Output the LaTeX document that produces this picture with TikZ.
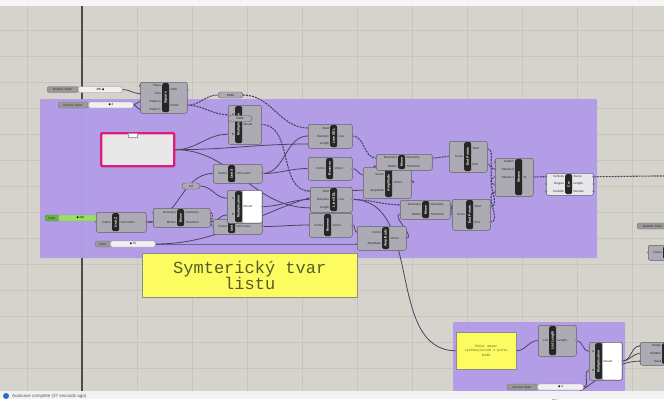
\documentclass[tikz,border=0pt]{standalone}
\usepackage{fontspec}
\setmainfont{Liberation Sans}
\newfontfamily\notefont{Liberation Mono}
\newfontfamily\dejavu{DejaVu Sans}
\usetikzlibrary{positioning,calc}

\definecolor{canvas}{RGB}{214,211,204}
\definecolor{gridc}{RGB}{200,197,190}
\definecolor{grpurple}{RGB}{178,156,232}
\definecolor{compgray}{RGB}{172,170,178}
\definecolor{complight}{RGB}{232,232,236}
\definecolor{compedge}{RGB}{96,94,104}
\definecolor{wirec}{RGB}{78,66,96}
\definecolor{notey}{RGB}{252,252,96}
\definecolor{notetext}{RGB}{86,92,40}
\definecolor{pinkedge}{RGB}{222,28,122}
\definecolor{slgreen}{RGB}{96,186,58}
\definecolor{slgreenlt}{RGB}{150,226,96}
\definecolor{statusblue}{RGB}{40,110,200}

\pgfdeclarelayer{bg}
\pgfdeclarelayer{wires}
\pgfsetlayers{bg,wires,main}

\tikzset{
  gridline/.style={draw=gridc, line width=0.5},
  splitter/.style={draw=black!70, line width=2.5},
  comp/.style={draw=compedge, fill=compgray, rounded corners=2, line width=0.5, inner sep=0},
  strip/.style={fill=black!85, rounded corners=1.5, minimum width=7, inner sep=0},
  striplbl/.style={text=white, rotate=90, font=\fontsize{3.4}{4}\selectfont\bfseries, inner sep=0},
  port/.style={font=\fontsize{3}{3}\selectfont, inner sep=0, text=black!85},
  portdot/.style={fill=compgray, draw=compedge, line width=0.3},
  capsule/.style={draw=compedge, fill=compgray, rounded corners=3, minimum height=6, inner sep=0,
    font=\fontsize{3}{3}\selectfont, line width=0.4},
  sliderlbl/.style={fill=black!40, draw=black!55, rounded corners=1.5, minimum height=6, inner xsep=1.5,
    inner ysep=0, font=\fontsize{3}{3}\selectfont, text=black!80, line width=0.3},
  sliderbar/.style={fill=black!6, draw=black!45, rounded corners=1.5, minimum height=6, inner sep=0,
    font=\fontsize{3}{3}\selectfont, line width=0.3},
  greenlbl/.style={fill=slgreen},
  greenbar/.style={fill=slgreenlt},
  note/.style={fill=notey, draw=black!45, line width=0.5, align=center, text=notetext, inner sep=0},
  pinkpanel/.style={draw=pinkedge, line width=2.4, fill=black!9, rounded corners=1, inner sep=0},
  pnltab/.style={fill=white, draw=black!40, line width=0.3, minimum width=9, minimum height=4, inner sep=0},
  wire/.style={draw=wirec, line width=0.8},
  listwire/.style={wire, line width=1.1, dash pattern=on 2pt off 1pt},
}

% [right part fill]{name}{x,y}{width}{height}{strip offset}{label}{inputs}{outputs}
\newcommand{\ghcomp}[9][compgray]{%
  \node[comp, minimum width=#4, minimum height=#5, anchor=north west] (#2) at (#3) {};
  \fill[#1, rounded corners=1.5] ($(#2.north west)+(#6+7.5,0.8)$) rectangle ($(#2.south east)+(-0.8,-0.8)$);
  \node[strip, minimum height=#5-2, anchor=north west] (#2-s) at ($(#2.north west)+(#6,1)$) {};
  \node[striplbl] at (#2-s.center) {#7};
  \foreach \t [count=\i] in {#8} {\xdef\ghn{\i}}
  \foreach \t [count=\i] in {#8} {
    \coordinate (#2-in\i) at ($(#2.north west)+(0,{(\i-0.5)*(#5)/\ghn})$);
    \filldraw[portdot] (#2-in\i) circle (1);
    \node[port, anchor=east] at ($(#2-in\i)+(#6-0.8,0)$) {\t};
  }
  \foreach \t [count=\i] in {#9} {\xdef\ghm{\i}}
  \foreach \t [count=\i] in {#9} {
    \coordinate (#2-out\i) at ($(#2.north east)+(0,{(\i-0.5)*(#5)/\ghm})$);
    \filldraw[portdot] (#2-out\i) circle (1);
    \node[port, anchor=west] at ($(#2-out\i)+({#6+7.8-(#4)},0)$) {\t};
  }
}
\newcommand{\knob}{{\dejavu ◆}}

\begin{document}
\begin{tikzpicture}[x=1pt,y=-1pt]
  \useasboundingbox (0,0) rectangle (664,399);

  \begin{pgfonlayer}{bg}
    \fill[canvas] (0,0) rectangle (664,399);
    \fill[black!4] (0,0) rectangle (664,6);
    \foreach \x in {27.5,82.5,...,664} \draw[gridline] (\x,6) -- (\x,391);
    \foreach \y in {30,56,...,391} \draw[gridline] (0,\y) -- (664,\y);
    \draw[splitter] (82,6) -- (82,391);
    % groups
    \fill[grpurple, opacity=.97, rounded corners=1] (40,99) rectangle (597,258);
    \fill[grpurple, opacity=.97, rounded corners=1] (453,322) rectangle (625,391);
  \end{pgfonlayer}

  % sliders
  \node[sliderlbl, minimum width=31, anchor=west] (sl1) at (47,89.5) {Number Slider};
  \node[sliderbar, minimum width=44, right=0pt of sl1] (sl1-v) {455 \knob};
  \node[sliderlbl, minimum width=30, anchor=west] (sl2) at (58,105) {Number Slider};
  \node[sliderbar, minimum width=45, right=0pt of sl2] (sl2-v) {\knob\,2};
  \node[sliderlbl, greenlbl, minimum width=13, anchor=west] (sl3) at (45,218) {Slider};
  \node[sliderbar, greenbar, minimum width=44, right=0pt of sl3] (sl3-v) {\knob\,101};
  \node[sliderlbl, minimum width=15, anchor=west] (sl4) at (95,244) {Slider};
  \node[sliderbar, minimum width=45, right=0pt of sl4] (sl4-v) {\knob\,75};

  % components
  \ghcomp{sq}{140,82}{47}{31}{22}{Square}{Plane,Size,Extent X,Extent Y}{Cells,Points}
  \node[capsule, minimum width=25] (pt1) at (230.5,95) {Point};
  \ghcomp{mult1}{228,105}{33}{39}{7}{Multiplication}{A,B}{Result}
  \node[capsule, minimum width=24] (pt2) at (240,118.5) {Point};
  \node[pinkpanel, minimum width=73, minimum height=33, anchor=north west] (pnl) at (100,132) {};
  \node[pnltab] (pnl-tab) at (132.5,135.5) {};
  \ghcomp{unitX}{213,164}{49}{19}{15}{Unit X}{Factor}{Unit vector}
  \node[capsule, minimum width=18] (one) at (191,186) {1.0};
  \ghcomp{unitY}{213,219}{49}{15}{15}{Unit Y}{Factor}{Unit vector}
  \ghcomp[white]{mult2}{227,190}{35}{33}{8}{Multiplication}{A,B}{Result}
  \ghcomp{moveL}{153,208}{57}{19}{24}{Move}{Geometry,Motion}{Geometry,Transform}
  \ghcomp{unitL}{96,212}{50}{20}{16}{Unit Z}{Factor}{Unit vector}
  \ghcomp{lsdl1}{308,124}{44}{24}{22}{Line SDL}{Start,Direction,Length}{Line}
  \ghcomp{rev1}{308,157}{44}{23}{18}{Reverse}{Vector}{Vector}
  \ghcomp{lsdl2}{310,187}{42}{25}{20}{Line SDL}{Start,Direction,Length}{Line}
  \ghcomp{rev2}{309,213}{43}{24}{15}{Reverse}{Vector}{Vector}
  \ghcomp{amp1}{363,167}{48}{31}{22}{Amplitude}{Vector,Amplitude}{Vector}
  \ghcomp{move1}{376,154}{56}{16}{22}{Move}{Geometry,Motion}{Geometry,Transform}
  \ghcomp{amp2}{357,226}{49}{24}{25}{Amplitude}{Vector,Amplitude}{Vector}
  \ghcomp{move2}{400,200}{50}{19}{22}{Move}{Geometry,Motion}{Geometry,Transform}
  \ghcomp{endpts1}{449,141}{38}{31}{15}{End Points}{Curve}{Start,End}
  \ghcomp{endpts2}{452,199}{38}{31}{14}{End Points}{Curve}{Start,End}
  \ghcomp{weave}{495,158}{38}{38}{20}{Weave}{Pattern,Stream 0,Stream 1,{},{}}{W}
  \begin{scope}[comp/.append style={fill=complight}]
    \ghcomp[complight]{crv}{546,173}{47}{22}{19}{Crv}{Vertices,Degree,Periodic}{Curve,Length,Domain}
  \end{scope}

  % notes
  \node[note, minimum width=215, minimum height=44, anchor=north west,
    font=\notefont\fontsize{17}{16}\selectfont] (nt1) at (142,253) {Symterický tvar\\listu};
  \node[note, minimum width=60, minimum height=37, anchor=north west,
    font=\notefont\fontsize{3.4}{4.6}\selectfont] (nt2) at (456,332) {Počet mezer\\vycházejících z počtu\\bodů};

  % second group
  \ghcomp{llen}{538,325}{38}{31}{11}{List Length}{List}{Length}
  \ghcomp[white]{mult3}{589,342}{33}{38}{6}{Multiplication}{A,B}{Result}
  \ghcomp{rnd}{640,342}{30}{23}{22}{}{Range,Number,Seed}{}
  \node[sliderlbl, minimum width=30, anchor=west] (sl5) at (507,387) {Number Slider};
  \node[sliderbar, minimum width=46, right=0pt of sl5] (sl5-v) {\knob\,4};

  % right edge
  \node[sliderlbl, minimum width=31, anchor=west] (rsl) at (637,226) {Number Slider};
  \ghcomp{rfac}{648,245}{30}{15}{15}{}{Factor}{}

  \coordinate (edgeR) at (664,176);
  \coordinate (edgeB) at (552,399);

  \begin{pgfonlayer}{wires}
    \draw[wire] (sl1-v.east) to[out=0,in=180] (sq-in2);
    \draw[wire] (sl2-v.east) to[out=0,in=180] (sq-in3);
    \draw[wire] (sl2-v.east) to[out=0,in=180] (sq-in4);
    \draw[listwire] (sq-out2) to[out=0,in=180] (pt1.west);
    \draw[listwire] (pt1.east) to[out=0,in=180] (lsdl1-in1);
    \draw[listwire] (sq-out2) to[out=0,in=180] (mult1-in1);
    \draw[wire] (pnl.east) to[out=0,in=180] (mult1-in2);
    \draw[wire] (pnl.east) to[out=0,in=180] (lsdl1-in3);
    \draw[wire] (pnl.east) to[out=0,in=180] (lsdl2-in3);
    \draw[wire] (unitX-out1) to[out=0,in=180] (lsdl1-in2);
    \draw[wire] (unitX-out1) to[out=0,in=180] (rev1-in1);
    \draw[listwire] (mult1-out1) to[out=0,in=180] (lsdl2-in1);
    \draw[wire] (sl3-v.east) to[out=0,in=180] (unitL-in1);
    \draw[wire] (unitL-out1) to[out=0,in=180] (moveL-in2);
    \draw[wire] (unitL-out1) to[out=0,in=180] (unitX-in1);
    \draw[wire] (one.east) to[out=0,in=180] (mult2-in1);
    \draw[listwire] (moveL-out1) to[out=0,in=180] (unitY-in1);
    \draw[wire] (moveL-out2) to[out=0,in=180] (mult2-in2);
    \draw[wire] (mult2-out1) to[out=0,in=180] (lsdl2-in2);
    \draw[wire] (unitY-out1) to[out=0,in=180] (rev2-in1);
    \draw[wire] (rev1-out1) to[out=0,in=180] (amp1-in1);
    \draw[wire] (rev2-out1) to[out=0,in=180] (amp2-in1);
    \draw[wire] (sl4-v.east) to[out=0,in=180] (amp2-in2);
    \draw[wire] (sl4-v.east) to[out=0,in=180] (amp1-in2);
    \draw[listwire] (lsdl1-out1) to[out=0,in=180] (move1-in1);
    \draw[wire] (amp1-out1) to[out=0,in=180] (move1-in2);
    \draw[listwire] (lsdl2-out1) to[out=0,in=180] (move2-in1);
    \draw[wire] (amp2-out1) to[out=0,in=180] (move2-in2);
    \draw[listwire] (move1-out1) to[out=0,in=180] (endpts1-in1);
    \draw[listwire] (move2-out1) to[out=0,in=180] (endpts2-in1);
    \draw[listwire] (endpts1-out1) to[out=0,in=180] (weave-in2);
    \draw[listwire] (endpts2-out1) to[out=0,in=180] (weave-in3);
    \draw[listwire] (endpts1-out2) to[out=0,in=180] (weave-in4);
    \draw[listwire] (endpts2-out2) to[out=0,in=180] (weave-in5);
    \draw[listwire] (weave-out1) to[out=0,in=180] (crv-in1);
    \draw[listwire] (crv-out1) to[out=0,in=180] (edgeR);
    \draw[wire] (lsdl2-out1) to[out=0,in=180] (nt2.west);
    \draw[wire] (nt2.east) to[out=0,in=180] (llen-in1);
    \draw[wire] (llen-out1) to[out=0,in=180] (mult3-in1);
    \draw[wire] (sl5-v.east) to[out=0,in=180] (mult3-in2);
    \draw[wire] (mult3-out1) to[out=0,in=180] (rnd-in1);
    \draw[wire] (mult3-out1) to[out=0,in=180] (rnd-in2);
    \draw[wire] (edgeB) to[out=0,in=180] (rnd-in3);
  \end{pgfonlayer}

  % status bar
  \fill[black!5] (0,391) rectangle (664,399);
  \fill[statusblue] (6,396) circle (3);
  \node[anchor=west, inner sep=0, font=\fontsize{4.5}{5}\selectfont, text=black!65] (status) at (12,396)
    {Autosave complete (37 seconds ago)};
\end{tikzpicture}
\end{document}
